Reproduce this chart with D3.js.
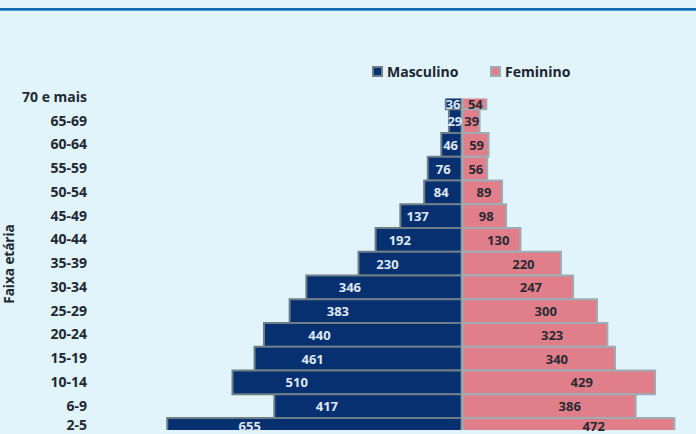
<!DOCTYPE html>
<html>
<head>
<meta charset="utf-8">
<script src="https://cdn.jsdelivr.net/npm/d3@7"></script>
<style>
  html, body { margin: 0; padding: 0; background: #e1f4fb; }
  svg { display: block; font-family: "Open Sans", "Noto Sans", sans-serif; }
</style>
</head>
<body>
<div id="chart"></div>
<script>
const ageGroups = ["70 e mais", "65-69", "60-64", "55-59", "50-54", "45-49", "40-44",
  "35-39", "30-34", "25-29", "20-24", "15-19", "10-14", "6-9", "2-5"];
const masculino = [36, 29, 46, 76, 84, 137, 192, 230, 346, 383, 440, 461, 510, 417, 655];
const feminino = [54, 39, 59, 56, 89, 98, 130, 220, 247, 300, 323, 340, 429, 386, 472];
const seriesNames = ["Masculino", "Feminino"];

const W = 696, H = 434;
const clipTop = 98.5, clipBottom = 430;
const textBottom = 426; // keep labels inside the picture

const svg = d3.select("#chart").append("svg")
  .attr("width", W)
  .attr("height", H);

// faixa azul no topo
svg.append("rect").attr("x", 0).attr("y", 8).attr("width", W).attr("height", 2).attr("fill", "#1267b3");
svg.append("rect").attr("x", 0).attr("y", 10).attr("width", W).attr("height", 1).attr("fill", "#4b9ad5");

// Skale
const x = d3.scaleLinear().domain([-660, 520]).range([165, 696]);
const y = d3.scaleBand().domain(ageGroups).range([85.5, 441.75]).padding(0);
const bw = y.bandwidth();

const data = ageGroups.map((g, i) => ({ g, m: masculino[i], f: feminino[i] }));

svg.append("clipPath").attr("id", "plot")
  .append("rect")
  .attr("x", 0).attr("y", clipTop)
  .attr("width", W).attr("height", clipBottom - clipTop);

const bars = svg.append("g").attr("clip-path", "url(#plot)");

// Masculino
bars.selectAll(".m")
  .data(data)
  .join("rect")
  .attr("class", "m")
  .attr("x", d => x(-d.m))
  .attr("y", d => y(d.g))
  .attr("width", d => x(0) - 0.5 - x(-d.m))
  .attr("height", bw)
  .attr("fill", "#06306f")
  .attr("stroke", "#6d7e87")
  .attr("stroke-width", 2);

// Feminino
bars.selectAll(".f")
  .data(data)
  .join("rect")
  .attr("class", "f")
  .attr("x", x(0) + 0.5)
  .attr("y", d => y(d.g))
  .attr("width", d => x(d.f) - x(0) - 0.5)
  .attr("height", bw)
  .attr("fill", "#e07f8a")
  .attr("stroke", "#9eacb4")
  .attr("stroke-width", 2);

const labelY = d => Math.min((Math.max(y(d.g), clipTop) + y(d.g) + bw) / 2, textBottom);
const frac = (v, male) => v < 100 ? 0.55 : (male ? 0.72 : 0.62);

svg.append("g").selectAll("text")
  .data(data)
  .join("text")
  .attr("x", d => x(-d.m * frac(d.m, true)))
  .attr("y", labelY)
  .attr("text-anchor", "middle")
  .attr("dominant-baseline", "central")
  .attr("font-size", 13)
  .attr("font-weight", "bold")
  .attr("fill", "#dfe8f2")
  .text(d => d.m);

svg.append("g").selectAll("text")
  .data(data)
  .join("text")
  .attr("x", d => x(d.f * frac(d.f, false)))
  .attr("y", labelY)
  .attr("text-anchor", "middle")
  .attr("dominant-baseline", "central")
  .attr("font-size", 13)
  .attr("font-weight", "bold")
  .attr("fill", "#2a2a35")
  .text(d => d.f);

// Oś Y
const yAxis = svg.append("g")
  .attr("transform", "translate(92,0)")
  .call(d3.axisLeft(y).tickSize(0).tickPadding(5));
yAxis.select(".domain").remove();
yAxis.selectAll("text")
  .attr("font-family", "'Open Sans', 'Noto Sans', sans-serif")
  .attr("font-size", 14)
  .attr("font-weight", "bold")
  .attr("fill", "#1e2933")
  .attr("dy", d => {
    const c = y(d) + bw / 2;
    return c > textBottom ? `${textBottom - c + 0.32 * 14}px` : "0.32em";
  });

svg.append("text")
  .attr("transform", "translate(14,264) rotate(-90)")
  .attr("text-anchor", "middle")
  .attr("font-size", 13.5)
  .attr("font-weight", "bold")
  .attr("fill", "#1e2933")
  .text("Faixa etária");

// Legenda
const legend = [
  { name: seriesNames[0], fill: "#06306f", stroke: "#6d7e87", x: 372 },
  { name: seriesNames[1], fill: "#e07f8a", stroke: "#9eacb4", x: 490 }
];
const lg = svg.append("g").selectAll("g")
  .data(legend)
  .join("g")
  .attr("transform", d => `translate(${d.x},66)`);
lg.append("rect")
  .attr("x", 1).attr("y", 1)
  .attr("width", 9).attr("height", 9)
  .attr("fill", d => d.fill)
  .attr("stroke", d => d.stroke)
  .attr("stroke-width", 2);
lg.append("text")
  .attr("x", 15)
  .attr("y", 5.5)
  .attr("dominant-baseline", "central")
  .attr("font-size", 14)
  .attr("font-weight", "bold")
  .attr("fill", "#1a2530")
  .text(d => d.name);
</script>
</body>
</html>
